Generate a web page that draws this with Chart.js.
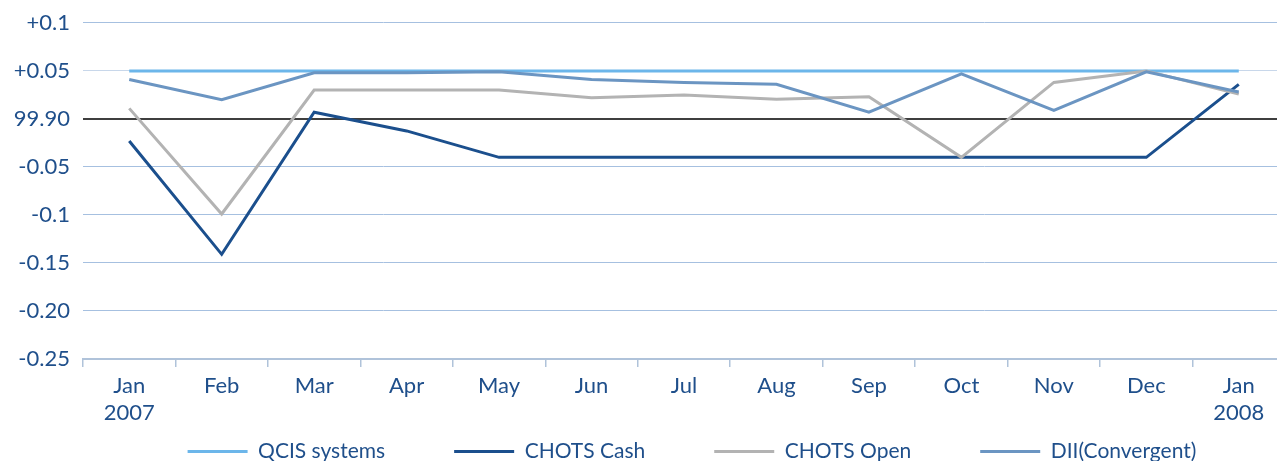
<!DOCTYPE html>
<html>
<head>
<meta charset="utf-8">
<script src="https://cdn.jsdelivr.net/npm/chart.js@4.4.1/dist/chart.umd.min.js"></script>
<style>
  html, body { margin: 0; padding: 0; background: #ffffff; overflow: hidden; }
  #wrap { position: relative; width: 1285px; height: 472px; }
</style>
</head>
<body>
<div id="wrap"><canvas id="c"></canvas></div>
<script>
const categories = [['Jan', '2007'], 'Feb', 'Mar', 'Apr', 'May', 'Jun', 'Jul', 'Aug', 'Sep', 'Oct', 'Nov', 'Dec', ['Jan', '2008']];
const yTickLabels = ['+0.1', '+0.05', '99.90', '-0.05', '-0.1', '-0.15', '-0.20', '-0.25'];
const qcisSystems = [0.05, 0.05, 0.05, 0.05, 0.05, 0.05, 0.05, 0.05, 0.05, 0.05, 0.05, 0.05, 0.05];
const chotsCash = [-0.023, -0.141, 0.007, -0.0125, -0.04, -0.04, -0.04, -0.04, -0.04, -0.04, -0.04, -0.04, 0.036];
const chotsOpen = [0.011, -0.099, 0.030, 0.030, 0.030, 0.022, 0.025, 0.0205, 0.023, -0.040, 0.038, 0.050, 0.026];
const diiConvergent = [0.041, 0.020, 0.048, 0.048, 0.049, 0.041, 0.038, 0.036, 0.007, 0.047, 0.009, 0.049, 0.028];

const FONT = 'Lato';
const TEXT = '#1f4f8b';
const FS = 22;

const legendShift = {
  id: 'legendShift',
  afterLayout(chart) {
    const lg = chart.legend;
    if (lg) {
      const dx = 692 - (lg.left + lg.right) / 2;
      lg.left += dx; lg.right += dx;
    }
    // let the two-line x labels extend below the axis box without being clipped
    chart.scales.x.bottom = chart.height;
  }
};

function ds(label, data, color, order) {
  return { label, data, borderColor: color, backgroundColor: color, pointBorderColor: color,
           borderWidth: 3, pointBorderWidth: 3, order };
}

new Chart(document.getElementById('c'), {
  type: 'line',
  data: {
    labels: categories,
    datasets: [
      ds('QCIS systems', qcisSystems, '#6cb6ea', 4),
      ds('CHOTS Cash', chotsCash, '#1b4f8d', 3),
      ds('CHOTS Open', chotsOpen, '#b3b3b3', 2),
      ds('DII(Convergent)', diiConvergent, '#6b95c2', 1)
    ]
  },
  options: {
    responsive: true,
    maintainAspectRatio: false,
    animation: false,
    layout: { padding: { top: 22, left: 0, right: 0, bottom: 0 } },
    elements: {
      line: { tension: 0 },
      point: { radius: 0, hoverRadius: 0 }
    },
    plugins: {
      tooltip: { enabled: false },
      legend: {
        position: 'bottom',
        labels: {
          usePointStyle: true,
          pointStyle: 'line',
          pointStyleWidth: 60,
          padding: 69,
          color: TEXT,
          font: { family: FONT, size: 21 },
          sort: (a, b) => a.datasetIndex - b.datasetIndex
        }
      }
    },
    scales: {
      x: {
        offset: true,
        afterFit(scale) { scale.height = 13; },
        grid: { offset: true, drawOnChartArea: false, drawTicks: true, tickLength: 8, color: '#b0c3da', lineWidth: 1.5 },
        border: { display: true, color: '#b0c3da', width: 2 },
        ticks: { color: TEXT, padding: 5, maxRotation: 0, autoSkip: false, font: { family: FONT, size: FS, lineHeight: 1.23 } }
      },
      y: {
        min: -0.25,
        max: 0.1,
        afterFit(scale) { scale.width = 83; },
        border: { display: false },
        grid: {
          drawTicks: false,
          color(ctx) {
            const v = ctx.tick ? Math.round(ctx.tick.value * 100) : 1;
            if (v === 0) return '#3f3f3f';
            if (v === 5) return '#c8d7ea';
            return '#a6c0e0';
          },
          lineWidth(ctx) {
            const v = ctx.tick ? Math.round(ctx.tick.value * 100) : 1;
            return v === 0 ? 2 : 1;
          }
        },
        ticks: {
          stepSize: 0.05,
          padding: 13,
          color: TEXT,
          font: { family: FONT, size: FS, lineHeight: 0.9 },
          callback(v) { return yTickLabels[Math.round((0.1 - v) / 0.05)]; }
        }
      }
    }
  },
  plugins: [legendShift]
});
</script>
</body>
</html>
